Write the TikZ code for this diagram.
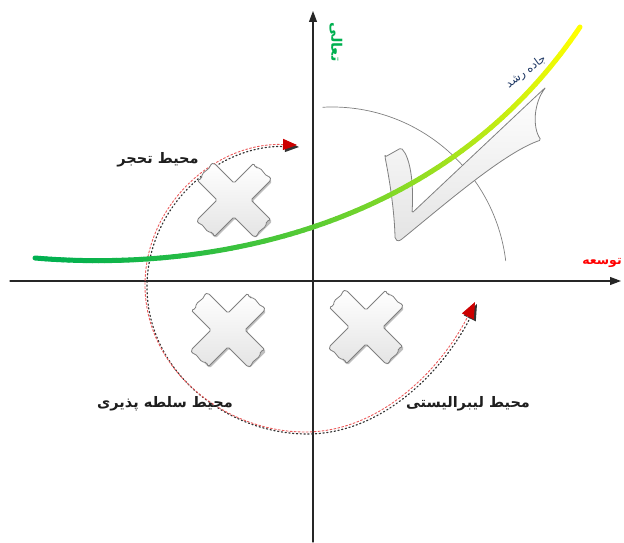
\documentclass[tikz,border=0pt]{standalone}
\usepackage{xcolor}
\usepackage{fontspec}
\usepackage{tikz}
\usetikzlibrary{arrows.meta}
\newfontfamily\arabicfont[Script=Arabic]{DejaVu Sans}
\TeXXeTstate=1
\definecolor{growgreen}{RGB}{0,176,80}
\definecolor{growyellow}{RGB}{255,255,0}
\definecolor{markgray}{RGB}{128,128,128}
\definecolor{markfill}{RGB}{228,228,228}
\definecolor{labeldark}{RGB}{30,30,30}
\definecolor{roadblue}{RGB}{31,56,100}
\definecolor{swirlred}{RGB}{235,90,90}

\tikzset{
  zonelabel/.style={font=\arabicfont\bfseries\fontsize{14.5}{17}\selectfont,text=labeldark,inner sep=0pt},
  axisline/.style={draw=black!85,line width=1.1pt,-{Triangle[length=11pt,width=8pt]}},
  markline/.style={draw=markgray,line width=0.8pt,top color=white,bottom color=markfill,rounded corners=1.5pt},
  xmark/.pic={
    \fill[black!25,shift={(1.5,-1.5)},rotate=45,rounded corners=1.5pt] (12,12) -- (40,12) -- (40,-12) -- (12,-12) -- (12,-40) -- (-12,-40) -- (-12,-12) -- (-40,-12) -- (-40,12) -- (-12,12) -- (-12,40) -- (12,40) -- cycle;
    \path[markline,rotate=45] (12,12) -- (40,12) -- (38,8) -- (41,4) -- (40,-6) -- (42,-9) -- (40,-12)
      -- (12,-12) -- (12,-40) -- (8,-38) -- (4,-41) -- (-6,-40) -- (-9,-42) -- (-12,-40)
      -- (-12,-12) -- (-40,-12) -- (-38,-8) -- (-41,-4) -- (-40,6) -- (-42,9) -- (-40,12)
      -- (-12,12) -- (-12,40) -- (-8,38) -- (-4,41) -- (6,40) -- (9,42) -- (12,40) -- cycle;
  },
  declare function={roadx(\t)=(1-\t)^3*35+3*(1-\t)^2*\t*200+3*(1-\t)*\t^2*440+\t^3*580;
                    roady(\t)=(1-\t)^3*284+3*(1-\t)^2*\t*270+3*(1-\t)*\t^2*307+\t^3*515;}
}

\begin{document}
\begin{tikzpicture}[x=1pt,y=1pt,line cap=round,line join=round]
  \useasboundingbox (0,0) rectangle (624,542);
  % axes
  \coordinate (west) at (10,261);
  \coordinate (east) at (621,261);
  \coordinate (south) at (313,0);
  \coordinate (north) at (313,531);
  \draw[axisline] (west) -- (east);
  \draw[axisline] (south) -- (north);
  % arc round the check
  \draw[markgray,line width=0.7pt] (332,260) ++(93:175) arc[start angle=93,end angle=7,radius=175];
  % swirl arrow
  \def\swirl{(297,397) .. controls (215,400) and (145,337) .. (145,257) .. controls (145,172) and (225,110) .. (305,110) .. controls (385,110) and (445,180) .. (475,240)}
  \draw[black!80,line width=1.2pt,dash pattern=on 1.2pt off 2.6pt,shift={(2,-2)},{Triangle[length=14pt,width=11pt]}-{Triangle[length=16pt,width=13pt]}] \swirl;
  \draw[swirlred,line width=0.9pt,dash pattern=on 2pt off 2pt,{Triangle[length=14pt,width=11pt,fill=red!80!black,color=red!80!black]}-{Triangle[length=16pt,width=13pt,fill=red!80!black,color=red!80!black]}] \swirl;
  % crosses
  \foreach \x/\y in {234/342,228/212,366/215}{\pic at (\x,\y) {xmark};}
  % check
  \path[markline] (385,385) -- (401,394) .. controls (410,385) and (414,360) .. (412,329) -- (532,442) -- (546,455)
    .. controls (534,440) and (532,415) .. (541,402) .. controls (505,390) and (445,338) .. (402,303)
    .. controls (398,300) and (395,302) .. (395,306) .. controls (394,335) and (389,365) .. (385,385) -- cycle;
  % road
  \foreach \i in {1,...,90}{
    \pgfmathsetmacro\mix{100*(\i/90)^1.5}
    \draw[line width=5pt,growyellow!\mix!growgreen] ({roadx((\i-1)/90)},{roady((\i-1)/90)}) -- ({roadx(\i/90)},{roady(\i/90)});
  }
  % labels
  \node[zonelabel] (stagnant) at (158,382) {\beginR محیط تحجر\endR};
  \node[zonelabel] (dominated) at (165,138) {\beginR محیط سلطه پذیری\endR};
  \node[zonelabel] (liberal) at (468,138) {\beginR محیط لیبرالیستی\endR};
  \node[zonelabel,text=red,font=\arabicfont\bfseries\fontsize{12.5}{14}\selectfont] (growth) at (602,279) {\beginR توسعه\endR};
  \node[zonelabel,text=growgreen,rotate=-90] (exalt) at (336,500) {\beginR تعالی\endR};
  \node[inner sep=0pt,text=roadblue,font=\arabicfont\fontsize{11.5}{13}\selectfont,rotate=36] (road) at (526,470) {\beginR جاده رشد\endR};
\end{tikzpicture}
\end{document}
